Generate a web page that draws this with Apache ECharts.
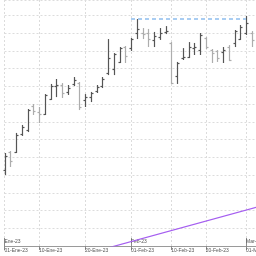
<!DOCTYPE html>
<html>
<head>
<meta charset="utf-8">
<script src="https://cdn.jsdelivr.net/npm/echarts@6/dist/echarts.min.js"></script>
<style>
  html, body { margin: 0; padding: 0; background: #fff; }
  #chart { width: 256px; height: 256px; }
</style>
</head>
<body>
<div id="chart"></div>
<script>
// trading days (sesiones)
var dates = [
  "02-Ene-23", "03-Ene-23", "04-Ene-23", "05-Ene-23", "06-Ene-23", "09-Ene-23", "10-Ene-23", "11-Ene-23",
  "12-Ene-23", "13-Ene-23", "16-Ene-23", "17-Ene-23", "18-Ene-23", "19-Ene-23", "20-Ene-23", "23-Ene-23",
  "24-Ene-23", "25-Ene-23", "26-Ene-23", "27-Ene-23", "30-Ene-23", "31-Ene-23",
  "01-Feb-23", "02-Feb-23", "03-Feb-23", "06-Feb-23", "07-Feb-23", "08-Feb-23", "09-Feb-23", "10-Feb-23",
  "13-Feb-23", "14-Feb-23", "15-Feb-23", "16-Feb-23", "17-Feb-23", "20-Feb-23", "21-Feb-23", "22-Feb-23",
  "23-Feb-23", "24-Feb-23", "27-Feb-23", "28-Feb-23",
  "01-Mar-23", "02-Mar-23", "03-Mar-23"
];

var open = [142.8, 153.0, 153.0, 163.1, 165.4, 178.9, 175.5, 174.4, 182.8, 190.1, 190.7, 186.8, 191.3, 191.8, 182.3,
  183.9, 187.3, 190.1, 197.5, 199.7, 203.7, 212.1, 211.5, 220.0, 220.0, 220.0, 216.1, 217.7, 220.6, 214.4,
  195.8, 205.9, 206.5, 211.5, 210.4, 217.2, 210.4, 209.9, 209.3, 212.1, 214.4, 216.6, 220.0, 220.0, null];
var high = [152.4, 153.5, 163.7, 168.2, 177.2, 180.0, 178.3, 185.6, 191.3, 194.1, 191.8, 190.7, 195.2, 192.4, 185.6,
  186.8, 190.7, 195.2, 216.6, 208.7, 212.1, 212.7, 217.2, 227.9, 222.8, 222.3, 220.6, 222.8, 223.9, 214.9,
  203.7, 211.5, 214.9, 214.4, 220.0, 217.7, 211.0, 210.4, 212.1, 213.2, 221.7, 224.5, 229.6, 221.1, null];
var low = [140.0, 144.5, 152.4, 162.0, 164.2, 173.8, 169.3, 173.8, 182.3, 183.9, 183.4, 185.1, 190.1, 176.6, 178.3,
  181.1, 186.2, 189.0, 196.3, 196.3, 203.1, 203.1, 209.9, 216.6, 216.6, 212.1, 212.1, 216.1, 219.4, 191.3,
  191.3, 204.8, 205.9, 207.6, 207.6, 211.0, 203.1, 203.7, 203.1, 204.2, 212.1, 216.1, 218.9, 212.1, null];
var close = [150.7, 147.9, 162.5, 167.0, 176.6, 176.1, 174.4, 185.1, 190.1, 190.7, 186.2, 189.0, 193.5, 178.3, 183.9,
  186.2, 189.6, 194.1, 205.9, 208.2, 211.5, 207.0, 216.6, 222.3, 219.4, 216.6, 218.3, 220.0, 221.1, 191.8,
  203.1, 206.5, 212.1, 212.1, 218.9, 212.1, 208.7, 205.9, 210.4, 204.8, 221.1, 223.4, 225.6, 216.1, null];

// linea de tendencia (dos puntos)
var trendIdx = [12, 44];
var trendVal = [93.6, 122.0];

// etiquetas del eje
var tickIdx = [0, 6, 14, 22, 29, 35, 42];
var tickLabels = ["01-Ene-23", "10-Ene-23", "20-Ene-23", "01-Feb-23", "10-Feb-23", "20-Feb-23", "01-Mar-23"];
var monthIdx = [0, 22, 42];
var monthLabels = ["Ene-23", "Feb-23", "Mar-23"];

var ohlc = [];
for (var i = 0; i < dates.length; i++) {
  if (open[i] == null) continue;
  ohlc.push([i, open[i], high[i], low[i], close[i]]);
}

// maximo de febrero -> linea discontinua
var febHigh = Math.max.apply(null, high.slice(22, 42));

var myChart = echarts.init(document.getElementById("chart"));

var option = {
  animation: false,
  backgroundColor: "#fff",
  grid: { left: 4.5, right: -1.5, top: 0, bottom: 10, containLabel: false, outerBoundsMode: "none" },
  xAxis: [
    {
      type: "category",
      data: dates,
      boundaryGap: false,
      axisLine: { show: true, lineStyle: { color: "#9a9a9a", width: 1 } },
      axisTick: {
        show: true,
        length: 4,
        interval: function (idx) { return tickIdx.indexOf(idx) >= 0; },
        lineStyle: { color: "#8a8a8a" }
      },
      axisLabel: {
        interval: function (idx) { return tickIdx.indexOf(idx) >= 0; },
        formatter: function (v, idx) { return tickLabels[tickIdx.indexOf(idx)] || ""; },
        align: "left",
        margin: 2,
        fontSize: 5,
        fontFamily: "Liberation Sans",
        color: "#555",
        hideOverlap: false
      },
      splitLine: {
        show: true,
        interval: function (idx) { return tickIdx.indexOf(idx) >= 0; },
        lineStyle: { color: "#dcdcdc", type: [2, 2] }
      }
    },
    {
      type: "category",
      data: dates,
      boundaryGap: false,
      position: "bottom",
      axisLine: { show: false },
      axisTick: {
        show: true,
        inside: true,
        length: 8,
        interval: function (idx) { return monthIdx.indexOf(idx) >= 0; },
        lineStyle: { color: "#8a8a8a" }
      },
      axisLabel: {
        inside: true,
        interval: function (idx) { return monthIdx.indexOf(idx) >= 0; },
        formatter: function (v, idx) { return monthLabels[monthIdx.indexOf(idx)] || ""; },
        align: "left",
        margin: 2,
        fontSize: 5,
        fontFamily: "Liberation Sans",
        color: "#555"
      },
      splitLine: { show: false }
    }
  ],
  yAxis: {
    type: "value",
    min: 100,
    max: 238.6,
    interval: 10,
    axisLine: { show: false },
    axisTick: { show: false },
    axisLabel: { show: false },
    splitLine: { show: true, lineStyle: { color: "#dcdcdc", type: [2, 2] } }
  },
  series: [
    {
      type: "custom",
      data: ohlc,
      encode: { x: 0, y: [1, 2, 3, 4] },
      renderItem: function (params, api) {
        var idx = api.value(0);
        var pO = api.coord([idx, api.value(1)]);
        var pH = api.coord([idx, api.value(2)]);
        var pL = api.coord([idx, api.value(3)]);
        var pC = api.coord([idx, api.value(4)]);
        var x = Math.round(pO[0]) + 0.5;
        var up = api.value(4) >= api.value(1);
        var st = { stroke: up ? "#555555" : "#adadad", lineWidth: 1.2 };
        return {
          type: "group",
          children: [
            { type: "line", shape: { x1: x, y1: pH[1], x2: x, y2: pL[1] }, style: st },
            { type: "line", shape: { x1: x - 2, y1: Math.round(pO[1]) + 0.5, x2: x, y2: Math.round(pO[1]) + 0.5 }, style: st },
            { type: "line", shape: { x1: x, y1: Math.round(pC[1]) + 0.5, x2: x + 2, y2: Math.round(pC[1]) + 0.5 }, style: st }
          ]
        };
      }
    },
    {
      type: "line",
      data: [[dates[22], febHigh], [dates[42], febHigh]],
      symbol: "none",
      lineStyle: { color: "#a9cdf2", width: 2, type: [4, 3] }
    },
    {
      type: "line",
      data: [[dates[trendIdx[0]], trendVal[0]], [dates[trendIdx[1]], trendVal[1]]],
      symbol: "none",
      clip: true,
      lineStyle: { color: "#a55ef0", width: 1.2 }
    }
  ]
};

myChart.setOption(option);
</script>
</body>
</html>
